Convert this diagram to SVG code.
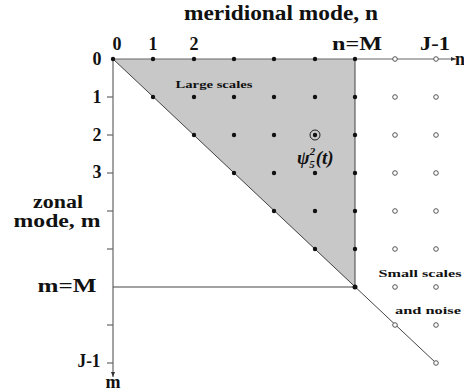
<svg xmlns="http://www.w3.org/2000/svg" width="464" height="391" viewBox="0 0 464 391">
<defs>
<style>
.t{font-family:"Liberation Serif","DejaVu Serif",serif;font-weight:bold;fill:#111}
.big{font-size:18px}
.ttl{font-size:20px}
.sm{font-size:10px}
.ax{stroke:#666;stroke-width:1.2;fill:none}
.ln{stroke:#444;stroke-width:1;fill:none}
.d{fill:#111}
.o{fill:#fff;stroke:#555;stroke-width:1}
</style>
<marker id="ar" markerWidth="6" markerHeight="6" refX="5" refY="3" orient="auto" markerUnits="userSpaceOnUse">
<path d="M0,1 L5,3 L0,5 z" fill="#333"/>
</marker>
</defs>
<rect width="464" height="391" fill="#fff"/>
<g id="large-region">
<polygon points="113,59 355,59 355,287" fill="#c8c8c8"/>
</g>
<g id="connectors">
<line class="ax" x1="113" y1="59" x2="456" y2="59" marker-end="url(#ar)"/>
<line class="ax" x1="113" y1="59" x2="113" y2="377" marker-end="url(#ar)"/>
<line class="ln" x1="113" y1="59" x2="436" y2="363"/>
<line class="ln" x1="355" y1="59" x2="355" y2="287"/>
<line class="ln" x1="113" y1="287" x2="355" y2="287"/>
<g class="ax">
<line x1="107" y1="97" x2="113" y2="97"/>
<line x1="107" y1="135" x2="113" y2="135"/>
<line x1="107" y1="173" x2="113" y2="173"/>
<line x1="107" y1="211" x2="113" y2="211"/>
<line x1="107" y1="249" x2="113" y2="249"/>
<line x1="107" y1="325" x2="113" y2="325"/>
<line x1="107" y1="363" x2="113" y2="363"/>
</g>
</g>
<g id="dots">
<circle class="d" cx="113" cy="59" r="2.2"/>
<circle class="d" cx="153" cy="59" r="2.2"/><circle class="d" cx="194" cy="59" r="2.2"/><circle class="d" cx="234" cy="59" r="2.2"/><circle class="d" cx="274" cy="59" r="2.2"/><circle class="d" cx="315" cy="59" r="2.2"/><circle class="d" cx="355" cy="59" r="2.2"/>
<circle class="d" cx="153" cy="97" r="2.2"/><circle class="d" cx="194" cy="97" r="2.2"/><circle class="d" cx="234" cy="97" r="2.2"/><circle class="d" cx="274" cy="97" r="2.2"/><circle class="d" cx="315" cy="97" r="2.2"/><circle class="d" cx="355" cy="97" r="2.2"/>
<circle class="d" cx="194" cy="135" r="2.2"/><circle class="d" cx="234" cy="135" r="2.2"/><circle class="d" cx="274" cy="135" r="2.2"/><circle class="d" cx="315" cy="135" r="2.2"/><circle class="d" cx="355" cy="135" r="2.2"/>
<circle cx="315" cy="135" r="5" fill="none" stroke="#222" stroke-width="1"/>
<circle class="d" cx="234" cy="173" r="2.2"/><circle class="d" cx="274" cy="173" r="2.2"/><circle class="d" cx="315" cy="173" r="2.2"/><circle class="d" cx="355" cy="173" r="2.2"/>
<circle class="d" cx="274" cy="211" r="2.2"/><circle class="d" cx="315" cy="211" r="2.2"/><circle class="d" cx="355" cy="211" r="2.2"/>
<circle class="d" cx="315" cy="249" r="2.2"/><circle class="d" cx="355" cy="249" r="2.2"/>
<circle class="d" cx="355" cy="287" r="2.5"/>
<circle class="o" cx="395" cy="59" r="2.3"/><circle class="o" cx="436" cy="59" r="2.3"/>
<circle class="o" cx="395" cy="97" r="2.3"/><circle class="o" cx="436" cy="97" r="2.3"/>
<circle class="o" cx="395" cy="135" r="2.3"/><circle class="o" cx="436" cy="135" r="2.3"/>
<circle class="o" cx="395" cy="173" r="2.3"/><circle class="o" cx="436" cy="173" r="2.3"/>
<circle class="o" cx="395" cy="211" r="2.3"/><circle class="o" cx="436" cy="211" r="2.3"/>
<circle class="o" cx="395" cy="249" r="2.3"/><circle class="o" cx="436" cy="249" r="2.3"/>
<circle class="o" cx="395" cy="287" r="2.3"/><circle class="o" cx="436" cy="287" r="2.3"/>
<circle class="o" cx="395" cy="325" r="2.3"/><circle class="o" cx="436" cy="325" r="2.3"/>
<circle class="o" cx="436" cy="363" r="2.3"/>
</g>
<g id="labels">
<text class="t ttl" x="281" y="20" text-anchor="middle" textLength="194" lengthAdjust="spacingAndGlyphs">meridional mode, n</text>
<text class="t big" x="117" y="50" text-anchor="middle">0</text>
<text class="t big" x="153" y="50" text-anchor="middle">1</text>
<text class="t big" x="194" y="50" text-anchor="middle">2</text>
<text class="t big" x="357" y="50" text-anchor="middle" textLength="50" lengthAdjust="spacingAndGlyphs">n=M</text>
<text class="t big" x="435" y="50" text-anchor="middle" textLength="30" lengthAdjust="spacingAndGlyphs">J-1</text>
<text class="t big" x="455" y="65">n</text>
<text class="t big" x="97" y="65" text-anchor="middle">0</text>
<text class="t big" x="97" y="103" text-anchor="middle">1</text>
<text class="t big" x="97" y="141" text-anchor="middle">2</text>
<text class="t big" x="97" y="178" text-anchor="middle">3</text>
<text class="t big" x="58" y="208" text-anchor="middle" textLength="50" lengthAdjust="spacingAndGlyphs">zonal</text>
<text class="t big" x="57" y="227" text-anchor="middle" textLength="87" lengthAdjust="spacingAndGlyphs">mode, m</text>
<text class="t big" x="67" y="292" text-anchor="middle" textLength="59" lengthAdjust="spacingAndGlyphs">m=M</text>
<text class="t big" x="89" y="367" text-anchor="middle" textLength="23" lengthAdjust="spacingAndGlyphs">J-1</text>
<text class="t big" x="113" y="388" text-anchor="middle">m</text>
<text class="t sm" x="214" y="88" text-anchor="middle" textLength="77" lengthAdjust="spacingAndGlyphs">Large scales</text>
<text class="t sm" x="420" y="277" text-anchor="middle" textLength="83" lengthAdjust="spacingAndGlyphs">Small scales</text>
<text class="t sm" x="428" y="314" text-anchor="middle" textLength="66" lengthAdjust="spacingAndGlyphs">and noise</text>
<text font-family="Liberation Serif,DejaVu Serif,serif" font-style="italic" font-weight="bold" font-size="19" x="297" y="164" fill="#111">ψ<tspan font-size="11" dy="-9">2</tspan><tspan font-size="11" dx="-6" dy="13">5</tspan><tspan dx="1" dy="-4">(</tspan>t)</text>
</g>
</svg>
